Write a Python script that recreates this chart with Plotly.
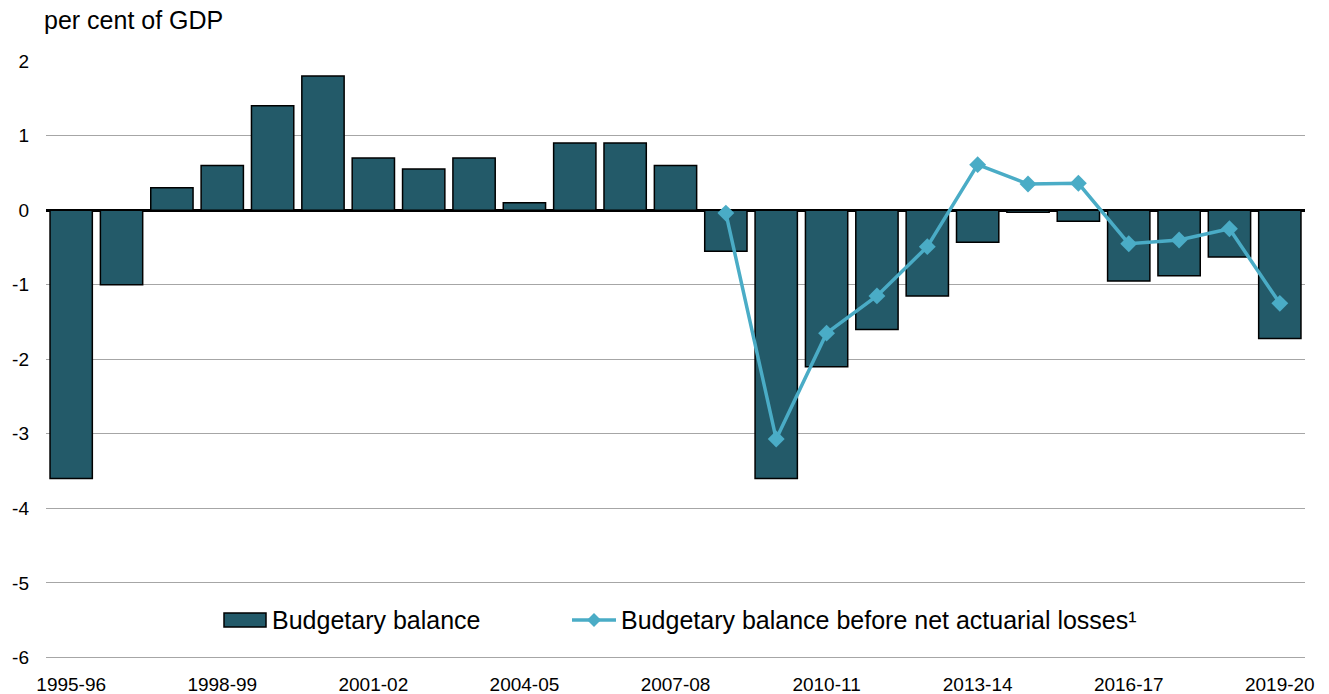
import plotly.graph_objects as go

years = ["1995-96", "1996-97", "1997-98", "1998-99", "1999-00", "2000-01", "2001-02",
         "2002-03", "2003-04", "2004-05", "2005-06", "2006-07", "2007-08", "2008-09",
         "2009-10", "2010-11", "2011-12", "2012-13", "2013-14", "2014-15", "2015-16",
         "2016-17", "2017-18", "2018-19", "2019-20"]

budgetary_balance = [-3.6, -1.0, 0.3, 0.6, 1.4, 1.8, 0.7, 0.55, 0.7, 0.1, 0.9, 0.9, 0.6,
                     -0.55, -3.6, -2.1, -1.6, -1.15, -0.43, -0.03, -0.15, -0.95, -0.88,
                     -0.63, -1.72]

line_years = years[13:]
before_actuarial = [-0.04, -3.07, -1.65, -1.15, -0.49, 0.61, 0.35, 0.36, -0.45, -0.40,
                    -0.25, -1.25]

tick_labels = ["1995-96", "1998-99", "2001-02", "2004-05", "2007-08", "2010-11",
               "2013-14", "2016-17", "2019-20"]
y_ticks = [2, 1, 0, -1, -2, -3, -4, -5, -6]

BAR_COLOR = "#235a69"
LINE_COLOR = "#4aacc6"
GRID_COLOR = "#a6a6a6"
FONT = "Liberation Sans, Arial, sans-serif"

W, H = 1329, 694
ML, MR, MT, MB = 46, 24, 61, 35
PW, PH = W - ML - MR, H - MT - MB


def px(x):
    return (x - ML) / PW


def py(y):
    return (H - MB - y) / PH


fig = go.Figure()
fig.add_trace(go.Bar(
    x=years, y=budgetary_balance, name="Budgetary balance",
    marker=dict(color=BAR_COLOR, line=dict(color="black", width=1.5)),
))
fig.add_trace(go.Scatter(
    x=line_years, y=before_actuarial, mode="lines+markers",
    name="Budgetary balance before net actuarial losses¹",
    line=dict(color=LINE_COLOR, width=3.5),
    marker=dict(symbol="diamond", size=13, color=LINE_COLOR),
))

# legend drawn by hand so the bar swatch can be a wide rectangle
leg_y = 620
shapes = [
    dict(type="rect", xref="paper", yref="paper",
         x0=px(224), x1=px(266), y0=py(627), y1=py(613),
         fillcolor=BAR_COLOR, line=dict(color="black", width=1.5), layer="above"),
    dict(type="line", xref="paper", yref="paper",
         x0=px(572), x1=px(616), y0=py(leg_y), y1=py(leg_y),
         line=dict(color=LINE_COLOR, width=3.5), layer="above"),
    dict(type="path", xref="paper", yref="paper",
         path=(f"M {px(594)} {py(leg_y - 7)} L {px(601)} {py(leg_y)} "
               f"L {px(594)} {py(leg_y + 7)} L {px(587)} {py(leg_y)} Z"),
         fillcolor=LINE_COLOR, line=dict(color=LINE_COLOR, width=0), layer="above"),
]

annotations = [
    dict(text="per cent of GDP", xref="paper", yref="paper", x=px(42), y=py(20),
         xanchor="left", yanchor="middle", showarrow=False, font=dict(size=25)),
    dict(text="Budgetary balance", xref="paper", yref="paper", x=px(270), y=py(leg_y),
         xanchor="left", yanchor="middle", showarrow=False, font=dict(size=25)),
    dict(text="Budgetary balance before net actuarial losses¹", xref="paper",
         yref="paper", x=px(619), y=py(leg_y), xanchor="left", yanchor="middle",
         showarrow=False, font=dict(size=25)),
]

fig.update_layout(
    width=W, height=H,
    margin=dict(l=ML, r=MR, t=MT, b=MB, autoexpand=False),
    plot_bgcolor="white", paper_bgcolor="white",
    bargap=0.16,
    font=dict(family=FONT, size=19, color="black"),
    showlegend=False,
    xaxis=dict(
        type="category", tickmode="array", tickvals=tick_labels, ticktext=tick_labels,
        showgrid=False, showline=False, ticks="", tickfont=dict(size=19),
        range=[-0.5, len(years) - 0.5], ticklabelstandoff=12, automargin=False,
    ),
    yaxis=dict(
        # small pad below -6 keeps its gridline inside the plot area
        range=[-6.02, 2], tickmode="array", tickvals=y_ticks,
        ticktext=[str(v) for v in y_ticks],
        showgrid=True, gridcolor=GRID_COLOR, gridwidth=1,
        zeroline=True, zerolinecolor="black", zerolinewidth=3,
        showline=False, ticks="", tickfont=dict(size=19), ticklabelstandoff=16,
        automargin=False,
    ),
    shapes=shapes,
    annotations=annotations,
)

fig.write_html("out.html")
